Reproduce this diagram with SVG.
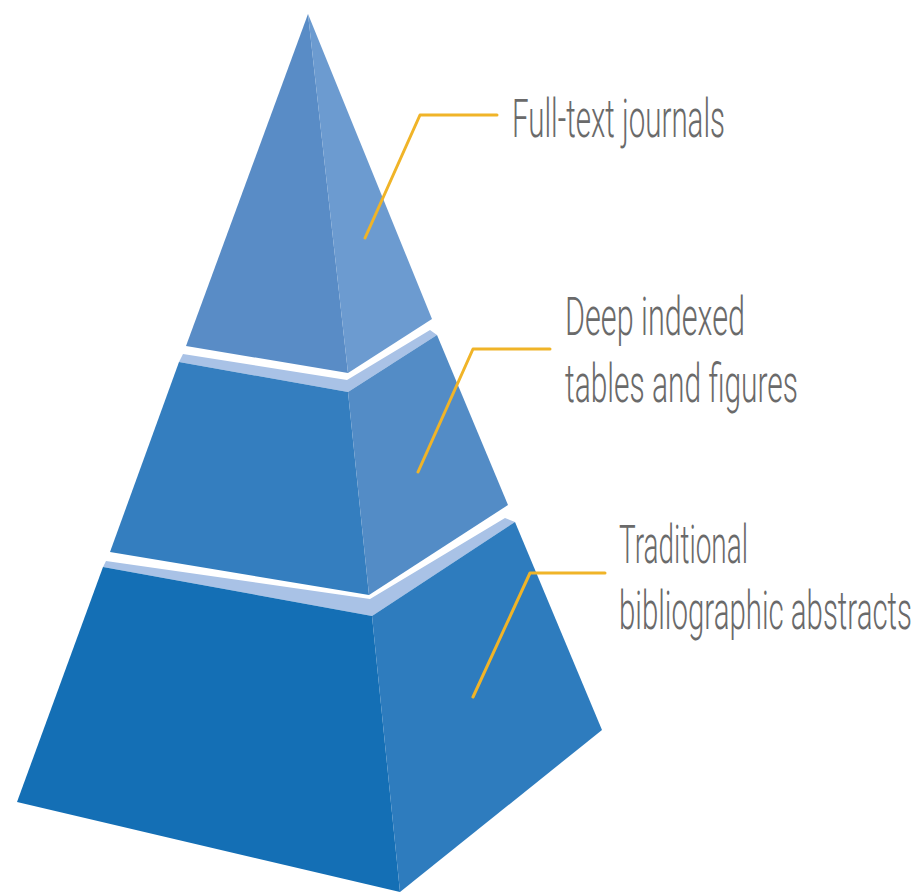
<svg xmlns="http://www.w3.org/2000/svg" width="920" height="893" viewBox="0 0 920 893">
  <style>
    .band { fill: #a9c2e6; }
    .lbl { font-family: "Roboto", "Liberation Sans", sans-serif; font-size: 54px; font-weight: 300; fill: #6a6a6a; }
    .lead { fill: none; stroke: #f0b428; stroke-width: 3; stroke-linejoin: round; stroke-linecap: round; }
  </style>
  <rect width="920" height="893" fill="#ffffff"/>

  <g id="tier-bottom">
    <polygon class="band" points="106,561 370,599 505,518 515,522 372,616 103,567"/>
    <polygon points="103,567 372,616 400,892 17,802" fill="#146fb5"/>
    <polygon points="372,616 515,522 602,730 400,892" fill="#2e7cbe"/>
  </g>

  <g id="tier-middle">
    <polygon class="band" points="183,354 347,380 430,330 437,335 348,392 179,362"/>
    <polygon points="179,362 348,392 369,595 110,552" fill="#347ebf"/>
    <polygon points="348,392 437,335 508,505 369,595" fill="#538cc6"/>
  </g>

  <g id="tier-top">
    <polygon points="308,14 348,373 186,346" fill="#598cc6"/>
    <polygon points="308,14 432,319 348,373" fill="#6c9bd0"/>
  </g>

  <g id="connectors">
    <polyline class="lead" points="365,238 420,115 497,115"/>
    <polyline class="lead" points="418,472 473,349 550,349"/>
    <polyline class="lead" points="473,697 530,573 605,573"/>
  </g>

  <g id="label-top">
    <text class="lbl" x="512" y="137" textLength="213" lengthAdjust="spacingAndGlyphs">Full-text journals</text>
  </g>
  <g id="label-middle">
    <text class="lbl" x="565" y="335" textLength="180" lengthAdjust="spacingAndGlyphs">Deep indexed</text>
    <text class="lbl" x="565" y="402" textLength="233" lengthAdjust="spacingAndGlyphs">tables and figures</text>
  </g>
  <g id="label-bottom">
    <text class="lbl" x="619" y="563" textLength="129" lengthAdjust="spacingAndGlyphs">Traditional</text>
    <text class="lbl" x="619" y="629" textLength="293" lengthAdjust="spacingAndGlyphs">bibliographic abstracts</text>
  </g>
</svg>
